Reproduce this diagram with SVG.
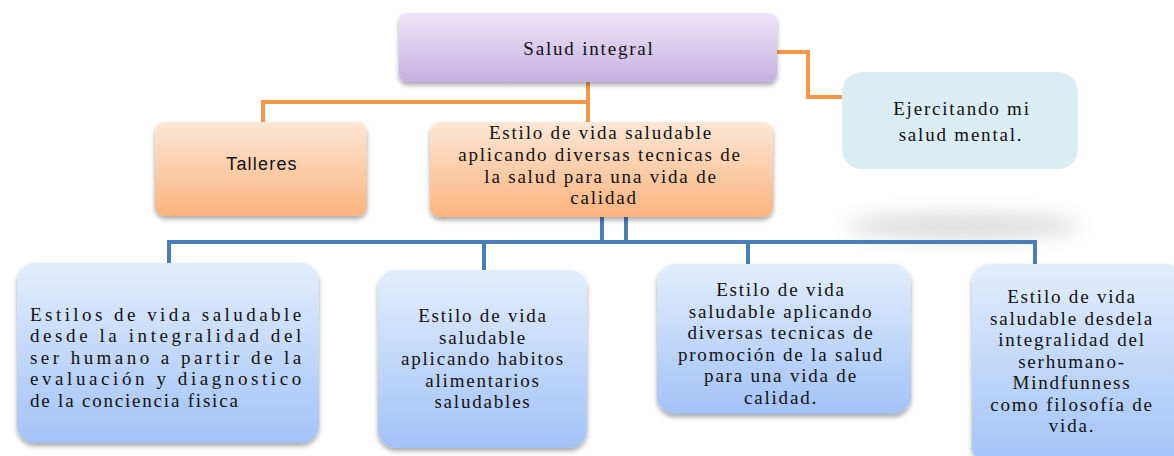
<svg xmlns="http://www.w3.org/2000/svg" width="1174" height="456" viewBox="0 0 1174 456">
<defs>
<linearGradient id="gPurple" x1="0" y1="0" x2="0" y2="1"><stop offset="0" stop-color="#ede6f7"/><stop offset="1" stop-color="#c5b1e2"/></linearGradient>
<linearGradient id="gOrange" x1="0" y1="0" x2="0" y2="1"><stop offset="0" stop-color="#fde7d6"/><stop offset="1" stop-color="#fbb47e"/></linearGradient>
<linearGradient id="gBlue" x1="0" y1="0" x2="0" y2="1"><stop offset="0" stop-color="#e3eefc"/><stop offset="1" stop-color="#a2c2f7"/></linearGradient>
<filter id="shadow" x="-10%" y="-10%" width="120%" height="130%"><feDropShadow dx="0" dy="3" stdDeviation="2.5" flood-color="#000" flood-opacity="0.35"/></filter>
<filter id="blob" x="-50%" y="-200%" width="200%" height="500%"><feGaussianBlur stdDeviation="10"/></filter>
<style>
.serif{font-family:"Liberation Serif","Times New Roman",serif;font-size:19px;fill:#111;letter-spacing:1.8px}
.mid{text-anchor:middle}
.sans{font-family:"Liberation Sans",Arial,sans-serif;font-size:18px;fill:#111;text-anchor:middle;letter-spacing:1.2px}
.orange{fill:none;stroke:#f79646;stroke-width:4}
.blue{fill:none;stroke:#4a7ebb;stroke-width:4}
</style>
</defs>
<rect width="1174" height="456" fill="#ffffff"/>
<ellipse cx="963" cy="226" rx="118" ry="13" fill="#dcdcdc" filter="url(#blob)"/>
<g id="connectors">
<path class="orange" d="M588,82 V122 M261,102 H590 M263,100 V122 M775,52 H808 V97 H842"/>
<path class="blue" d="M602,217 V242 M626,217 V242 M167,242 H1037 M169,240 V263 M484,242 V270 M748,242 V264 M1035,240 V264"/>
</g>
<g id="salud-integral">
<rect x="399" y="13" width="378" height="69" rx="8" fill="url(#gPurple)" filter="url(#shadow)"/>
<text class="serif mid" x="589" y="55">Salud integral</text>
</g>
<g id="ejercitando">
<rect x="842" y="72" width="236" height="97" rx="20" fill="#daedf3"/>
<text class="serif mid" x="962" y="115">Ejercitando mi</text>
<text class="serif mid" x="961" y="141">salud mental.</text>
</g>
<g id="talleres">
<rect x="155" y="122" width="212" height="94" rx="10" fill="url(#gOrange)" filter="url(#shadow)"/>
<text class="sans" x="262" y="170">Talleres</text>
</g>
<g id="estilo-principal">
<rect x="430" y="122" width="343" height="95" rx="10" fill="url(#gOrange)" filter="url(#shadow)"/>
<text class="serif mid" x="601" y="139">Estilo de vida saludable</text>
<text class="serif mid" x="600" y="161">aplicando diversas tecnicas de</text>
<text class="serif mid" x="601" y="183">la salud para una vida de</text>
<text class="serif mid" x="604" y="204">calidad</text>
</g>
<g id="box1">
<rect x="17" y="263" width="302" height="180" rx="18" fill="url(#gBlue)" filter="url(#shadow)"/>
<text class="serif" x="30" y="321" textLength="273" lengthAdjust="spacing">Estilos de vida saludable</text>
<text class="serif" x="30" y="342" textLength="273" lengthAdjust="spacing">desde la integralidad del</text>
<text class="serif" x="30" y="364" textLength="273" lengthAdjust="spacing">ser humano a partir de la</text>
<text class="serif" x="30" y="385" textLength="273" lengthAdjust="spacing">evaluación y diagnostico</text>
<text class="serif" x="30" y="407">de la conciencia fisica</text>
</g>
<g id="box2">
<rect x="378" y="270" width="209" height="178" rx="18" fill="url(#gBlue)" filter="url(#shadow)"/>
<text class="serif mid" x="483" y="322">Estilo de vida</text>
<text class="serif mid" x="483" y="343.5">saludable</text>
<text class="serif mid" x="483" y="365">aplicando habitos</text>
<text class="serif mid" x="483" y="386.5">alimentarios</text>
<text class="serif mid" x="483" y="408">saludables</text>
</g>
<g id="box3">
<rect x="657" y="264" width="254" height="150" rx="18" fill="url(#gBlue)" filter="url(#shadow)"/>
<text class="serif mid" x="781" y="296">Estilo de vida</text>
<text class="serif mid" x="781" y="317.5">saludable aplicando</text>
<text class="serif mid" x="781" y="339">diversas tecnicas de</text>
<text class="serif mid" x="781" y="360.5">promoción de la salud</text>
<text class="serif mid" x="781" y="382">para una vida de</text>
<text class="serif mid" x="781" y="403.5">calidad.</text>
</g>
<g id="box4">
<rect x="972" y="264" width="212" height="200" rx="18" fill="url(#gBlue)" filter="url(#shadow)"/>
<text class="serif mid" x="1072" y="303">Estilo de vida</text>
<text class="serif mid" x="1072" y="324.5">saludable desdela</text>
<text class="serif mid" x="1072" y="346">integralidad del</text>
<text class="serif mid" x="1072" y="367.5">serhumano-</text>
<text class="serif mid" x="1072" y="389">Mindfunness</text>
<text class="serif mid" x="1072" y="410.5">como filosofía de</text>
<text class="serif mid" x="1072" y="432">vida.</text>
</g>
</svg>
